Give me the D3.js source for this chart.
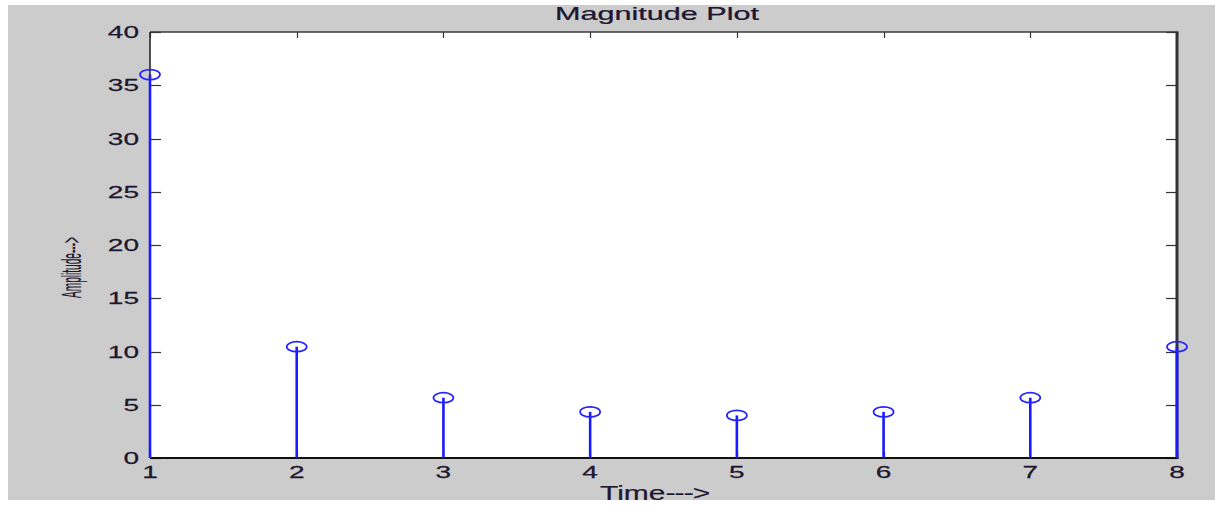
<!DOCTYPE html>
<html>
<head>
<meta charset="utf-8">
<script src="https://cdn.jsdelivr.net/npm/d3@7"></script>
<style>
  html, body { margin: 0; padding: 0; background: #ffffff; }
  svg { display: block; }
  text { font-family: "Liberation Sans", Arial, sans-serif; fill: #1e1630; }
</style>
</head>
<body>
<svg id="chart" width="1215" height="506"></svg>
<script>
// Sample index and magnitude of each stem
const samples = [1, 2, 3, 4, 5, 6, 7, 8];
const magnitudes = [36, 10.45, 5.66, 4.33, 4, 4.33, 5.66, 10.45];
const xTicks = [1, 2, 3, 4, 5, 6, 7, 8];
const yTicks = [0, 5, 10, 15, 20, 25, 30, 35, 40];
const titleText = "Magnitude Plot";
const xLabelWord = "Time";
const xLabelArrow = "--->";
const yLabelText = "Amplitude--->";

const svg = d3.select("#chart");
const W = 1215, H = 506;
const box = { left: 150, right: 1177, top: 32, bottom: 458 };

const x = d3.scaleLinear().domain([1, 8]).range([box.left, box.right]);
const y = d3.scaleLinear().domain([0, 40]).range([box.bottom, box.top]);

// figure background
svg.append("rect").attr("x", 8).attr("y", 5).attr("width", W - 8).attr("height", 495)
  .attr("fill", "#cccccc");

// axes area
svg.append("rect").attr("x", box.left).attr("y", box.top)
  .attr("width", box.right - box.left).attr("height", box.bottom - box.top)
  .attr("fill", "#ffffff");

// tick marks drawn inside the box on all four sides
const tickG = svg.append("g").attr("stroke", "#333333").attr("stroke-width", 1.2);
yTicks.forEach(v => {
  const yy = Math.round(y(v)) + 0.5;
  tickG.append("line").attr("x1", box.left).attr("x2", box.left + 11).attr("y1", yy).attr("y2", yy);
  tickG.append("line").attr("x1", box.right - 11).attr("x2", box.right).attr("y1", yy).attr("y2", yy);
});
xTicks.forEach(v => {
  const xx = Math.round(x(v)) + 0.5;
  tickG.append("line").attr("x1", xx).attr("x2", xx).attr("y1", box.top).attr("y2", box.top + 6);
  tickG.append("line").attr("x1", xx).attr("x2", xx).attr("y1", box.bottom - 6).attr("y2", box.bottom);
});

// box outline
svg.append("line").attr("x1", box.left).attr("x2", box.right + 1.5).attr("y1", box.top).attr("y2", box.top)
  .attr("stroke", "#3a3a3a").attr("stroke-width", 1.6);
svg.append("line").attr("x1", box.left).attr("x2", box.left).attr("y1", box.top).attr("y2", box.bottom)
  .attr("stroke", "#2a2a2a").attr("stroke-width", 1.6);
svg.append("line").attr("x1", box.right).attr("x2", box.right).attr("y1", box.top).attr("y2", box.bottom)
  .attr("stroke", "#333333").attr("stroke-width", 3);
svg.append("line").attr("x1", box.left).attr("x2", box.right + 1.5).attr("y1", box.bottom).attr("y2", box.bottom)
  .attr("stroke", "#111111").attr("stroke-width", 2);

// stems
const stems = svg.append("g");
samples.forEach((s, i) => {
  stems.append("line")
    .attr("x1", x(s)).attr("x2", x(s))
    .attr("y1", y(0)).attr("y2", y(magnitudes[i]))
    .attr("stroke", "#1a1aff").attr("stroke-width", 2.6);
});
// open markers at stem tops
samples.forEach((s, i) => {
  stems.append("ellipse")
    .attr("cx", x(s)).attr("cy", y(magnitudes[i]))
    .attr("rx", 10).attr("ry", 5)
    .attr("fill", "none").attr("stroke", "#2222ff").attr("stroke-width", 1.7);
});

// wide-set text helper: font size plus horizontal stretch
function label(txt, px, py, size, sx, anchor) {
  return svg.append("text")
    .attr("transform", `translate(${px},${py}) scale(${sx},1)`)
    .attr("text-anchor", anchor)
    .attr("font-size", size)
    .attr("stroke", "#1e1630").attr("stroke-width", 0.25)
    .text(txt);
}

yTicks.forEach(v => label(String(v), 139, y(v) + 6, 17, 1.65, "end"));
xTicks.forEach(v => label(String(v), x(v), 478, 17, 1.65, "middle"));

label(titleText, 657, 20, 18, 1.7, "middle");

// x-axis label: word followed by a run-together arrow
const xl = svg.append("text")
  .attr("transform", "translate(600,500) scale(1.5,1)")
  .attr("font-size", 20)
  .attr("stroke", "#1e1630").attr("stroke-width", 0.2);
xl.append("tspan").text(xLabelWord);
xl.append("tspan").attr("letter-spacing", -0.6).text(xLabelArrow);

svg.append("text")
  .attr("transform", "translate(81,298) rotate(-90)")
  .attr("font-size", 28)
  .attr("textLength", 61).attr("lengthAdjust", "spacingAndGlyphs")
  .attr("stroke", "#1e1630").attr("stroke-width", 0.2)
  .text(yLabelText);
</script>
</body>
</html>
